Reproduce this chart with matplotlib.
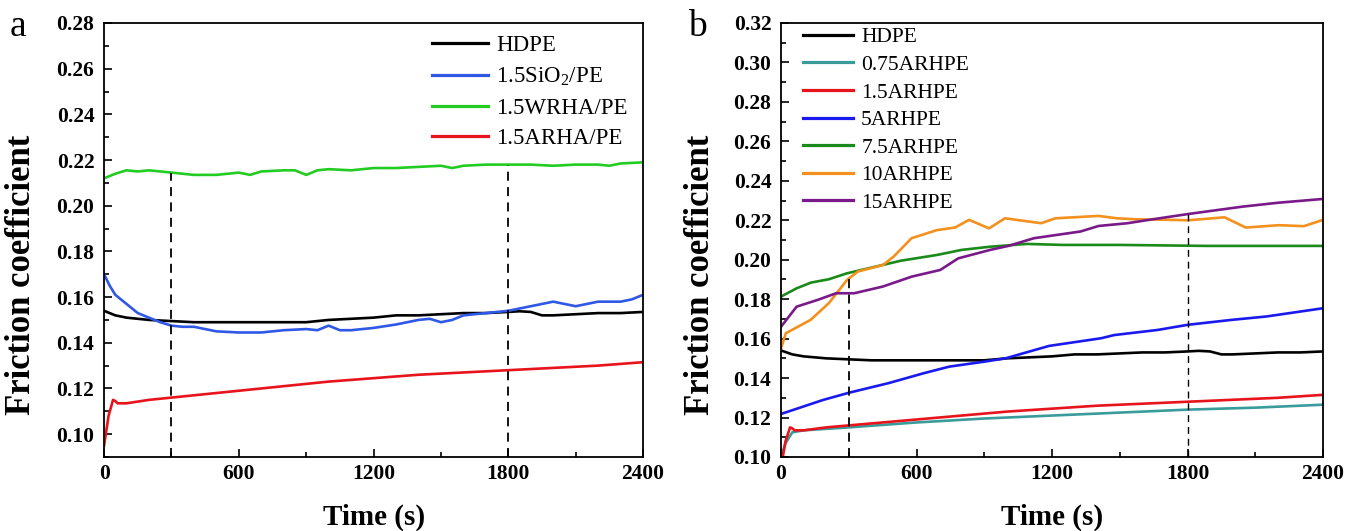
import numpy as np
import matplotlib.pyplot as plt
from matplotlib.ticker import MultipleLocator

plt.rcParams['font.family'] = ['Liberation Serif', 'DejaVu Serif']
plt.rcParams['mathtext.fontset'] = 'custom'
plt.rcParams['mathtext.rm'] = 'Liberation Serif'
plt.rcParams['mathtext.it'] = 'Liberation Serif:italic'
plt.rcParams['mathtext.bf'] = 'Liberation Serif:bold'

# friction coefficient vs sliding time
t_hdpe = [0, 50, 100, 200, 300, 400, 500, 600, 700, 800, 900, 1000, 1100, 1200,
          1300, 1400, 1500, 1600, 1700, 1800, 1850, 1900, 1950, 2000, 2100, 2200,
          2300, 2400]
mu_hdpe = [0.154, 0.152, 0.151, 0.150, 0.1495, 0.149, 0.149, 0.149, 0.149, 0.149,
           0.149, 0.150, 0.1505, 0.151, 0.152, 0.152, 0.1525, 0.153, 0.153, 0.1535,
           0.1538, 0.1535, 0.152, 0.152, 0.1525, 0.153, 0.153, 0.1535]

t_sio2 = [0, 25, 50, 100, 150, 200, 250, 300, 350, 400, 450, 500, 600, 700, 800,
          900, 950, 1000, 1050, 1100, 1200, 1300, 1400, 1450, 1500, 1550, 1600,
          1700, 1800, 1900, 2000, 2100, 2200, 2300, 2350, 2400]
mu_sio2 = [0.170, 0.165, 0.161, 0.157, 0.153, 0.151, 0.149, 0.1475, 0.147, 0.147,
           0.146, 0.145, 0.1445, 0.1445, 0.1455, 0.146, 0.1455, 0.1475, 0.1455,
           0.1455, 0.1465, 0.148, 0.150, 0.1505, 0.149, 0.150, 0.152, 0.153, 0.154,
           0.156, 0.158, 0.156, 0.158, 0.158, 0.159, 0.161]

t_wrha = [0, 50, 100, 150, 200, 250, 300, 400, 500, 600, 650, 700, 800, 850, 900,
          950, 1000, 1100, 1200, 1300, 1400, 1500, 1550, 1600, 1700, 1800, 1900,
          2000, 2100, 2200, 2250, 2300, 2400]
mu_wrha = [0.212, 0.214, 0.2155, 0.215, 0.2155, 0.215, 0.2145, 0.2135, 0.2135,
           0.2145, 0.2135, 0.215, 0.2155, 0.2155, 0.2135, 0.2155, 0.216, 0.2155,
           0.2165, 0.2165, 0.217, 0.2175, 0.2165, 0.2175, 0.218, 0.218, 0.218,
           0.2175, 0.218, 0.218, 0.2175, 0.2185, 0.219]

t_arha = [0, 20, 40, 50, 60, 100, 200, 300, 400, 600, 800, 1000, 1200, 1400, 1600,
          1800, 2000, 2200, 2400]
mu_arha = [0.095, 0.108, 0.115, 0.1145, 0.1135, 0.1135, 0.115, 0.116, 0.117, 0.119,
           0.121, 0.123, 0.1245, 0.126, 0.127, 0.128, 0.129, 0.130, 0.1315]

t_075 = [0, 20, 50, 100, 300, 600, 900, 1200, 1500, 1800, 2100, 2400]
mu_075 = [0.100, 0.107, 0.1125, 0.1135, 0.115, 0.1175, 0.1195, 0.121, 0.1225,
          0.124, 0.125, 0.1265]

t_5 = [0, 186, 302, 475, 630, 745, 899, 994, 1187, 1418, 1475, 1668, 1801, 1995,
       2148, 2400]
mu_5 = [0.1218, 0.1289, 0.1326, 0.1374, 0.1424, 0.1458, 0.1483, 0.150, 0.1563,
        0.1602, 0.1618, 0.1644, 0.167, 0.1695, 0.1712, 0.1754]

t_75 = [0, 69, 133, 212, 292, 419, 531, 690, 801, 927, 1088, 1247, 1500, 1885, 2400]
mu_75 = [0.1813, 0.1855, 0.1884, 0.1901, 0.1931, 0.1965, 0.1995, 0.2024, 0.205,
         0.2066, 0.208, 0.2075, 0.2075, 0.207, 0.207]

t_10 = [0, 21, 131, 212, 292, 340, 451, 499, 578, 690, 770, 833, 921, 992, 1152,
        1215, 1406, 1487, 1567, 1725, 1805, 1964, 2058, 2203, 2315, 2400]
mu_10 = [0.155, 0.1627, 0.1695, 0.178, 0.1897, 0.194, 0.1973, 0.2016, 0.2109,
         0.215, 0.2163, 0.2202, 0.2159, 0.221, 0.2185, 0.221, 0.2222, 0.221,
         0.2205, 0.2202, 0.220, 0.2215, 0.2163, 0.2175, 0.217, 0.2202]

t_15 = [0, 69, 164, 244, 324, 451, 578, 705, 785, 927, 1007, 1120, 1326, 1406,
        1534, 1646, 1805, 2043, 2203, 2400]
mu_15 = [0.166, 0.1762, 0.1797, 0.183, 0.183, 0.1864, 0.1914, 0.1948, 0.2007,
         0.205, 0.207, 0.2109, 0.2143, 0.2171, 0.2185, 0.2205, 0.2232, 0.2269,
         0.2289, 0.2308]

labels_a = ['HDPE', r'1.5SiO$_2$/PE', '1.5WRHA/PE', '1.5ARHA/PE']
labels_b = ['HDPE', '0.75ARHPE', '1.5ARHPE', '5ARHPE', '7.5ARHPE', '10ARHPE', '15ARHPE']
marks = [300, 1800]

fig = plt.figure(figsize=(13.55, 5.31), dpi=100)
ax_a = fig.add_axes([0.0768, 0.1394, 0.3978, 0.8173])
ax_b = fig.add_axes([0.5764, 0.1394, 0.4, 0.8173])


def style(ax, ylo, yhi, ytick_pos, ylab_x):
    ax.set_xlim(0, 2400)
    ax.set_ylim(ylo, yhi)
    ax.xaxis.set_major_locator(MultipleLocator(600))
    ax.xaxis.set_minor_locator(MultipleLocator(300))
    ax.set_yticks(ytick_pos)
    ax.yaxis.set_minor_locator(MultipleLocator(0.01))
    ax.set_yticklabels(['%.2f' % v for v in ytick_pos])
    ax.tick_params(which='both', direction='in', top=False, right=False, width=1.2)
    ax.tick_params(which='major', length=6)
    ax.tick_params(which='minor', length=3.5)
    ax.tick_params(axis='x', pad=5)
    ax.tick_params(axis='y', pad=7)
    for lbl in ax.get_xticklabels() + ax.get_yticklabels():
        lbl.set_fontweight('bold')
        lbl.set_fontsize(15.5)
    for sp in ax.spines.values():
        sp.set_linewidth(1.3)
    ax.set_xlabel('Time (s)', fontsize=21, fontweight='bold')
    ax.set_ylabel('Friction coefficient', fontsize=25, fontweight='bold')
    ax.xaxis.set_label_coords(0.5, -0.108)
    ax.yaxis.set_label_coords(ylab_x, 0.42)


lw = 1.9
# panel a
ax_a.plot(t_hdpe, mu_hdpe, color='black', lw=lw, label=labels_a[0])
ax_a.plot(t_sio2, mu_sio2, color='#2f58e6', lw=lw, label=labels_a[1])
ax_a.plot(t_wrha, mu_wrha, color='#22cc22', lw=lw, label=labels_a[2])
ax_a.plot(t_arha, mu_arha, color='#e8141c', lw=lw, label=labels_a[3])
for m in marks:
    ax_a.vlines(m, 0.09, np.interp(m, t_wrha, mu_wrha), colors='black',
                linestyles=(0, (5, 3.5)), lw=1.3)
style(ax_a, 0.09, 0.28, np.arange(0.10, 0.281, 0.02), -0.122)
leg_a = ax_a.legend(loc='upper left', bbox_to_anchor=(0.6085, 0.972), frameon=False,
                    fontsize=16.5, handlelength=2.45, handletextpad=0.35,
                    labelspacing=0.42, borderpad=0, borderaxespad=0)
for ln in leg_a.get_lines():
    ln.set_linewidth(2.3)

# panel b
ax_b.plot(t_hdpe, mu_hdpe, color='black', lw=lw, label=labels_b[0])
ax_b.plot(t_075, mu_075, color='#3a9b9b', lw=lw, label=labels_b[1])
ax_b.plot(t_arha, mu_arha, color='#e8141c', lw=lw, label=labels_b[2])
ax_b.plot(t_5, mu_5, color='#1a1aee', lw=lw, label=labels_b[3])
ax_b.plot(t_75, mu_75, color='#1a8a1a', lw=lw, label=labels_b[4])
ax_b.plot(t_10, mu_10, color='#f4901e', lw=lw, label=labels_b[5])
ax_b.plot(t_15, mu_15, color='#7a1a8a', lw=lw, label=labels_b[6])
ax_b.vlines(marks[0], 0.10, np.interp(marks[0], t_75, mu_75), colors='black',
            linestyles=(0, (5, 3.5)), lw=1.3)
ax_b.vlines(marks[1], 0.10, np.interp(marks[1], t_15, mu_15), colors='black',
            linestyles=(0, (5, 3.5)), lw=1.0)
style(ax_b, 0.10, 0.32, np.arange(0.10, 0.321, 0.02), -0.118)
leg_b = ax_b.legend(loc='upper left', bbox_to_anchor=(0.0406, 0.99), frameon=False,
                    fontsize=15.5, handlelength=2.3, handletextpad=0.4,
                    labelspacing=0.35, borderpad=0, borderaxespad=0)
for ln in leg_b.get_lines():
    ln.set_linewidth(2.3)

fig.text(0.0133, 0.949, 'a', fontsize=27, ha='center', va='center')
fig.text(0.5144, 0.949, 'b', fontsize=27, ha='center', va='center')

fig.savefig('out.png', dpi=100)
